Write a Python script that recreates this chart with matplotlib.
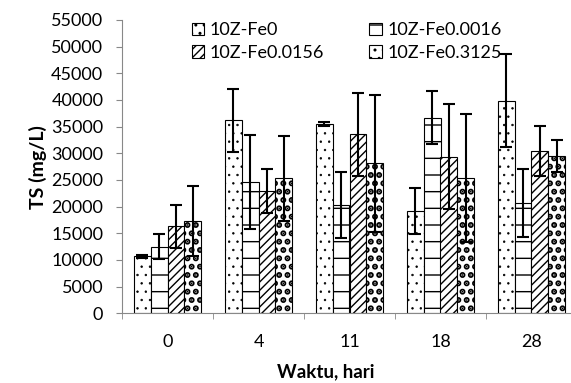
import numpy as np
import matplotlib
matplotlib.use("Agg")
import matplotlib.pyplot as plt

plt.rcParams['font.family'] = ['Lato', 'DejaVu Sans']
plt.rcParams['hatch.linewidth'] = 1.0

hari = ['0', '4', '11', '18', '28']
seri = ['10Z-Fe0', '10Z-Fe0.0016', '10Z-Fe0.0156', '10Z-Fe0.3125']

# rata-rata TS (mg/L)
fe0 = [10700, 36200, 35500, 19200, 39900]
fe0016 = [12500, 24600, 20300, 36700, 20700]
fe0156 = [16300, 22900, 33600, 29400, 30400]
fe3125 = [17300, 25300, 28100, 25400, 29500]

# simpangan
err_fe0 = [300, 5900, 300, 4300, 8700]
err_fe0016 = [2300, 8800, 6200, 4900, 6300]
err_fe0156 = [4100, 4100, 7800, 9900, 4700]
err_fe3125 = [6600, 8000, 12900, 12000, 3000]

nilai = [fe0, fe0016, fe0156, fe3125]
galat = [err_fe0, err_fe0016, err_fe0156, err_fe3125]
pola = ['..', '-', '////', '..']
tebal = [0.5, 1.0, 1.0, 3.0]

fig = plt.figure(figsize=(5.71, 3.83), dpi=100)
ax = fig.add_axes([122/571, 69.7/383, 455/571, (313.3-20)/383])

x = np.arange(len(hari))
w = 0.184
hnd = []
for i in range(4):
    pos = x + (i - 1.5) * w
    b = ax.bar(pos, nilai[i], w, color='white', edgecolor='black', linewidth=0.8,
               hatch=pola[i], label=seri[i])
    for p in b.patches:
        try:
            p.set_hatch_linewidth(tebal[i])
        except AttributeError:
            pass
    hnd.append(b)
    ax.errorbar(pos, nilai[i], yerr=galat[i], fmt='none', ecolor='black',
                elinewidth=1.5, capsize=4, capthick=1.5)

ax.set_xlim(-0.5, 4.5)
ax.set_ylim(0, 55000)
ax.set_yticks(np.arange(0, 55001, 5000))
ax.set_xticks(x)
ax.set_xticklabels(hari)
ax.set_xticks(np.arange(-0.5, 4.6, 1), minor=True)
ax.tick_params(axis='x', which='major', length=0, pad=15, labelsize=13)
ax.tick_params(axis='x', which='minor', length=4.5, color='#888888')
ax.tick_params(axis='y', length=4.5, color='#888888', labelsize=13, pad=9)

for s in ['top', 'right']:
    ax.spines[s].set_visible(False)
for s in ['left', 'bottom']:
    ax.spines[s].set_color('#888888')

ax.set_ylabel('TS (mg/L)', fontsize=14, fontweight='bold', labelpad=3)
ax.set_xlabel('Waktu, hari', fontsize=13.5, fontweight='bold', labelpad=9)
ax.xaxis.set_label_coords(0.448, -0.17)

urut = [0, 2, 1, 3]
ax.legend([hnd[k] for k in urut], [seri[k] for k in urut], ncol=2,
          loc='upper left', bbox_to_anchor=(0.125, 1.035), frameon=False,
          fontsize=13, handlelength=0.7, handleheight=0.7, handletextpad=0.3,
          columnspacing=2.5, labelspacing=0.35, borderpad=0.2)

fig.savefig('out.png', dpi=100)
